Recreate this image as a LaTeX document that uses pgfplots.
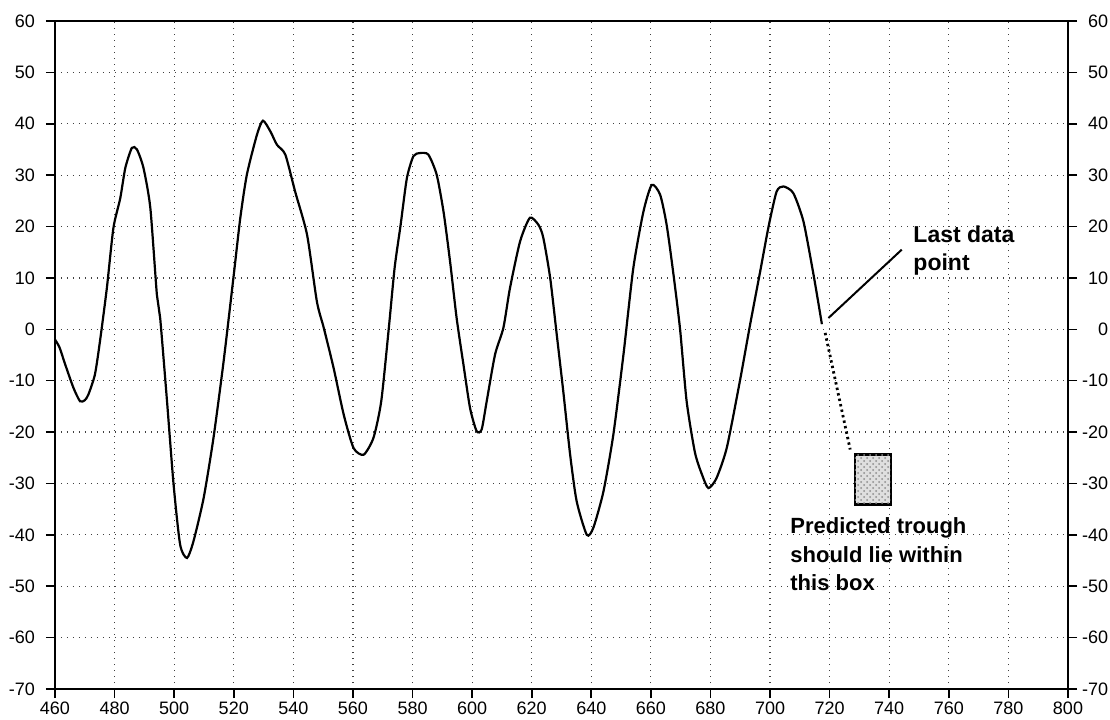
\documentclass[border=0pt]{standalone}
\usepackage{fontspec}
\setmainfont{Liberation Sans}
\usepackage{pgfplots}
\pgfplotsset{compat=1.18}
\usetikzlibrary{patterns}
\begin{document}
\begin{tikzpicture}
\useasboundingbox (-27.5pt,-15pt) rectangle (527.5pt,344.5pt);
\pgfplotsset{
  common/.style={
    scale only axis, width=506.5pt, height=334pt,
    xmin=460, xmax=800, ymin=-70, ymax=60,
    xtick={460,480,...,800}, ytick={-70,-60,...,60},
    tick align=outside, major tick length=4.5pt,
    tick style={black, line width=0.8pt},
    axis line style={line width=1pt},
    ticklabel style={font=\fontsize{9}{11}\selectfont},
    /pgf/number format/assume math mode=true,
  }
}
\begin{axis}[common,
  xtick pos=bottom, ytick pos=left,
  grid=major,
  major grid style={black!75, line width=0.6pt, dash pattern=on 0.7pt off 2.3pt},
  xticklabel style={yshift=1.5pt},
  yticklabel style={xshift=-2pt},
  clip=false]
\addplot[black, line width=1.1pt, smooth, tension=0.4] coordinates {
(460,-2) (461.5,-3.5) (463.4,-6.8) (466.2,-11.4) (468.4,-14) (470,-13.8) (471.2,-12.7)
(473.4,-8.8) (475.1,-2.3) (477.4,8) (479.6,19.7) (481.9,25.5) (483.6,31.4) (485.8,35.3)
(487.5,35) (489.7,31.4) (492,23.6) (494.2,6.7) (495.3,2.2) (497.6,-14) (499.8,-30.2)
(502,-41.9) (504.3,-44.5) (506.5,-41.2) (509.9,-32.8) (513.2,-21.1) (516.6,-6.2)
(520,10.6) (522.2,21.7) (524.4,30.1) (527.8,37.9) (529.8,40.6) (532.3,38.5) (534.5,35.9)
(537.3,34) (540.6,26.8) (544.6,18.4) (547.9,5.4) (550.2,0.3) (553.5,-7.5) (556.9,-16.6)
(560.2,-23.1) (563.6,-24.4) (566.9,-21.1) (569.5,-14) (572,0) (574,12) (576,20.3)
(578.1,29.4) (580.3,33.7) (582.5,34.3) (585.3,34) (588.1,30.1) (590.4,22.9) (592.6,13.2)
(594.8,2.2) (597.1,-6.9) (599.3,-15.3) (601.5,-19.8) (603.2,-19.5) (604.9,-14)
(607.7,-4.9) (610.5,0.3) (612.7,8) (616.1,17.1) (619.4,21.7) (622.3,20.3) (623.9,17.8)
(626.2,10) (628.4,-1) (630.6,-12.1) (632.9,-24.4) (635.1,-33.5) (638.5,-40) (640.7,-38.6)
(644.1,-31.5) (647.4,-20.5) (650.8,-4.9) (654.1,11.9) (657.5,22.9) (660.3,28.1)
(663.1,26.2) (665.3,20.3) (667.6,10.6) (669.8,0) (672,-14) (674.8,-24) (677.3,-28.5)
(679.3,-30.9) (682,-29) (685.5,-23) (689.9,-10) (693.3,0.9) (696.7,11.3) (699.5,20)
(702.2,26.8) (704.5,27.8) (707.8,26.5) (711.2,21) (714.6,10.6) (717.4,1)
};
\draw[black, line width=1pt] (axis cs:719.6,2.2) -- (axis cs:744.2,15.5);
\draw[black, line width=1.4pt, dash pattern=on 1.2pt off 1.6pt] (axis cs:718.5,-0.7) -- (axis cs:726.9,-23.4);
\draw[black, line width=1.2pt, fill=gray!25, postaction={pattern=crosshatch dots, pattern color=gray!90}]
  (axis cs:728.5,-24.4) rectangle (axis cs:740.5,-34.1);
\node[anchor=west, align=left, font=\fontsize{11.5}{14}\selectfont\bfseries, inner sep=0pt]
  at (axis cs:748,15.4) {Last data\\point};
\node[anchor=west, align=left, font=\fontsize{11}{14.25}\selectfont\bfseries, inner sep=0pt]
  at (axis cs:706.7,-43.8) {Predicted trough\\should lie within\\this box};
\end{axis}
\begin{axis}[common,
  hide x axis, axis y line*=right,
  ytick pos=right, yticklabel pos=right,
  yticklabel={\makebox[13.5pt][r]{\pgfmathprintnumber{\tick}}},
  yticklabel style={anchor=west, xshift=-1.5pt}]
\end{axis}
\end{tikzpicture}
\end{document}
